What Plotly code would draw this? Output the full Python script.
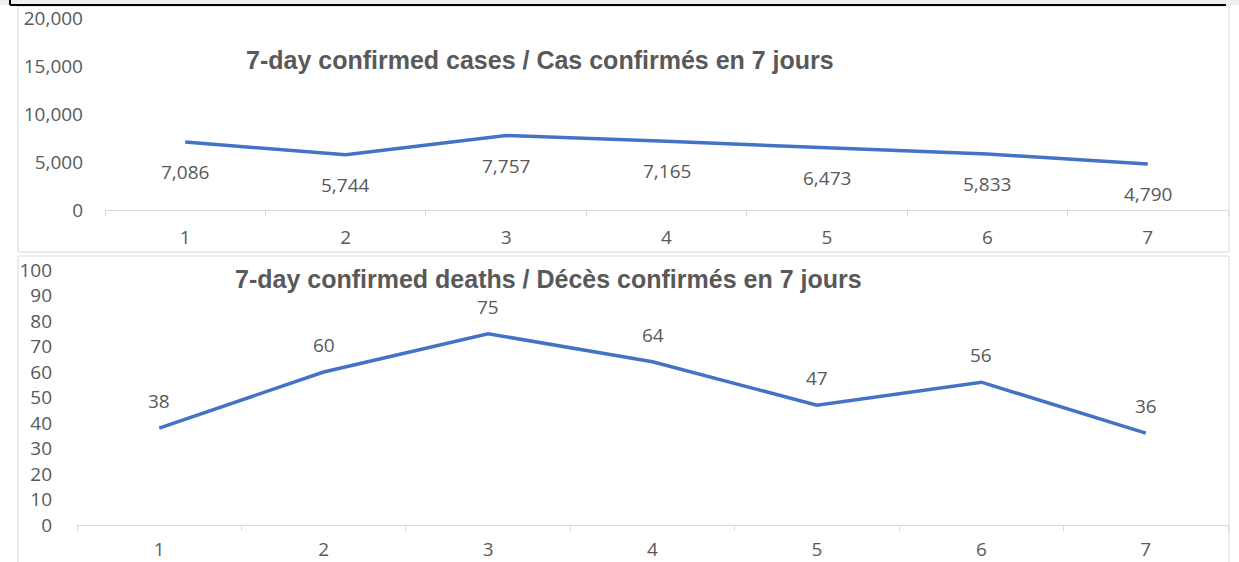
import plotly.graph_objects as go

W, H = 1239, 562

categories = ["1", "2", "3", "4", "5", "6", "7"]
cases = [7086, 5744, 7757, 7165, 6473, 5833, 4790]
deaths = [38, 60, 75, 64, 47, 56, 36]
cases_ticks = [0, 5000, 10000, 15000, 20000]
deaths_ticks = [0, 10, 20, 30, 40, 50, 60, 70, 80, 90, 100]
title_cases = "7-day confirmed cases / Cas confirmés en 7 jours"
title_deaths = "7-day confirmed deaths / Décès confirmés en 7 jours"

LINE = "#4472C4"
TXT = "#595959"
FONT = "Open Sans"
FS = 19

def px(x):
    return x / W

def py(y):
    return 1 - y / H

fig = go.Figure()
fig.add_trace(go.Scatter(x=categories, y=cases, mode="lines", line=dict(color=LINE, width=3.5),
                         xaxis="x", yaxis="y", hoverinfo="skip", showlegend=False))
fig.add_trace(go.Scatter(x=categories, y=deaths, mode="lines", line=dict(color=LINE, width=3.5),
                         xaxis="x2", yaxis="y2", hoverinfo="skip", showlegend=False))

annotations = []
for i, v in enumerate(cases):
    annotations.append(dict(x=i, y=v, xref="x", yref="y", text=f"{v:,}", showarrow=False,
                            xanchor="center", yanchor="middle",
                            yshift=-30, font=dict(size=FS, color=TXT, family=FONT)))
for i, v in enumerate(deaths):
    annotations.append(dict(x=i, y=v, xref="x2", yref="y2", text=str(v), showarrow=False,
                            xanchor="center", yanchor="middle",
                            yshift=27, font=dict(size=FS, color=TXT, family=FONT)))
annotations.append(dict(x=px(540), y=py(60), xref="paper", yref="paper", text=f"<b>{title_cases}</b>",
                        xanchor="center", yanchor="middle",
                        showarrow=False, font=dict(size=25, color=TXT, family="Liberation Sans")))
annotations.append(dict(x=px(548), y=py(279), xref="paper", yref="paper", text=f"<b>{title_deaths}</b>",
                        xanchor="center", yanchor="middle",
                        showarrow=False, font=dict(size=25, color=TXT, family="Liberation Sans")))

shapes = [
    # top strip of the screenshot
    dict(type="rect", xref="paper", yref="paper", x0=0, x1=1, y0=py(5), y1=1,
         fillcolor="#f0f0f0", line=dict(width=0), layer="below"),
    dict(type="line", xref="paper", yref="paper", x0=px(10), x1=px(1226), y0=py(5), y1=py(5),
         line=dict(color="black", width=2)),
    dict(type="line", xref="paper", yref="paper", x0=px(10), x1=px(10), y0=py(0), y1=py(5),
         line=dict(color="black", width=2)),
    # panel frames
    dict(type="rect", xref="paper", yref="paper", x0=px(18), x1=px(1229), y0=py(252), y1=py(6),
         fillcolor="white", line=dict(color="#d9d9d9", width=1), layer="below"),
    dict(type="rect", xref="paper", yref="paper", x0=px(18), x1=px(1229), y0=py(565), y1=py(256),
         fillcolor="white", line=dict(color="#d9d9d9", width=1), layer="below"),
]

xcommon = dict(type="category", showgrid=False, showline=True, linecolor="#d9d9d9", linewidth=1,
               ticks="outside", tickson="boundaries", ticklen=5, tickcolor="#d9d9d9",
               tickfont=dict(size=FS, color=TXT, family=FONT), range=[-0.5, 6.5],
               fixedrange=True, automargin=False)
ycommon = dict(showgrid=False, showline=False, zeroline=False, ticks="",
               tickfont=dict(size=FS, color=TXT, family=FONT), fixedrange=True, automargin=False)

fig.update_layout(
    width=W, height=H,
    margin=dict(l=0, r=0, t=0, b=0, pad=0),
    paper_bgcolor="white", plot_bgcolor="rgba(0,0,0,0)",
    showlegend=False,
    xaxis=dict(**xcommon, domain=[px(105), px(1228)], anchor="y", ticklabelstandoff=10),
    yaxis=dict(**ycommon, domain=[py(210), py(18)], anchor="x", range=[0, 20000],
               tickvals=cases_ticks, ticktext=[f"{t:,}" for t in cases_ticks], ticklabelstandoff=21),
    xaxis2=dict(**xcommon, domain=[px(77), px(1228)], anchor="y2", ticklabelstandoff=7),
    yaxis2=dict(**ycommon, domain=[py(525), py(270)], anchor="x2", range=[0, 100],
                tickvals=deaths_ticks, ticktext=[str(t) for t in deaths_ticks], ticklabelstandoff=24),
    annotations=annotations,
    shapes=shapes,
)

fig.write_html("out.html", config={"displayModeBar": False},
               post_script="document.body.style.margin='0px';document.body.style.overflow='hidden';")
